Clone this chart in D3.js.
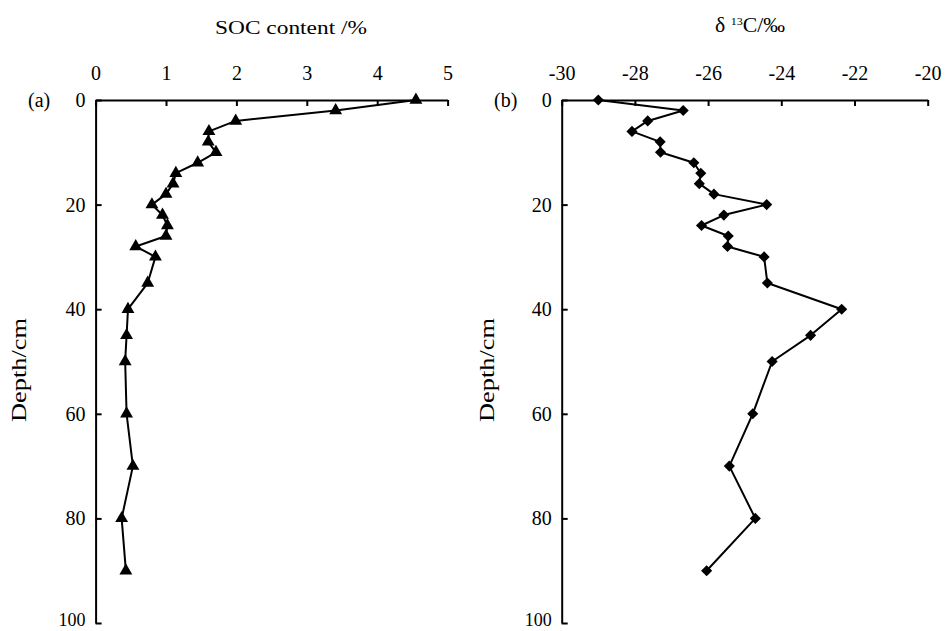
<!DOCTYPE html>
<html>
<head>
<meta charset="utf-8">
<script src="https://cdn.jsdelivr.net/npm/d3@7"></script>
<style>
  body { margin: 0; background: #fff; }
  svg { display: block; font-family: "Liberation Serif", "Times New Roman", serif; }
</style>
</head>
<body>
<svg id="chart" width="947" height="631"></svg>
<script>
// ---- data ----
const depths = [0, 2, 4, 6, 8, 10, 12, 14, 16, 18, 20, 22, 24, 26, 28, 30, 35, 40, 45, 50, 60, 70, 80, 90];
const socContent = [4.55, 3.41, 1.99, 1.61, 1.60, 1.71, 1.45, 1.14, 1.10, 1.00, 0.80, 0.95, 1.02, 1.00, 0.57, 0.85, 0.74, 0.46, 0.44, 0.42, 0.44, 0.53, 0.37, 0.43];
const delta13C = [-29.0, -26.68, -27.65, -28.08, -27.31, -27.3, -26.39, -26.2, -26.24, -25.84, -24.40, -25.57, -26.18, -25.45, -25.47, -24.47, -24.38, -22.35, -23.2, -24.25, -24.78, -25.42, -24.71, -26.04];
const socTicks = [0, 1, 2, 3, 4, 5];
const d13Ticks = [-30, -28, -26, -24, -22, -20];
const depthTicks = [0, 20, 40, 60, 80, 100];

const svg = d3.select("#chart");
const yScale = d3.scaleLinear().domain([0, 100]).range([100, 623]);

function panel(opts) {
  const g = svg.append("g");
  const x = d3.scaleLinear().domain(opts.domain).range(opts.range);
  const xAxis = d3.axisTop(x).tickValues(opts.ticks).tickSizeInner(-6).tickSizeOuter(0).tickPadding(20)
    .tickFormat(d => d < 0 ? "-" + Math.abs(d) : String(d));
  const ax = g.append("g").attr("transform", `translate(0,${yScale(0)})`).call(xAxis);
  const yAxis = d3.axisLeft(yScale).tickValues(depthTicks).tickSizeInner(-6).tickSizeOuter(0).tickPadding(10);
  const ay = g.append("g").attr("transform", `translate(${opts.range[0]},0)`).call(yAxis);
  [ax, ay].forEach(a => {
    a.select(".domain").attr("stroke", "#000").attr("stroke-width", 2);
    a.selectAll(".tick line").attr("stroke", "#000").attr("stroke-width", 2);
    a.selectAll(".tick text").attr("fill", "#000").attr("font-size", 20)
      .attr("font-family", "'Liberation Serif', serif");
  });
  // keep the bottom label inside the frame
  ay.selectAll(".tick text").filter(d => d === 100).attr("font-size", 18).attr("dy", "0.12em");

  const pts = depths.map((d, i) => [x(opts.values[i]), yScale(d)]);
  g.append("path").attr("d", d3.line()(pts)).attr("fill", "none")
    .attr("stroke", "#000").attr("stroke-width", 2).attr("stroke-linejoin", "round");
  const sym = d3.symbol().type(opts.symbol).size(opts.symSize);
  g.selectAll("path.mk").data(pts).join("path").attr("class", "mk")
    .attr("d", sym)
    .attr("transform", d => `translate(${d[0]},${d[1]}) rotate(${opts.rotate})`)
    .attr("fill", "#000");

  // panel letter
  g.append("text").attr("x", opts.letterX).attr("y", 101).attr("dy", "0.32em")
    .attr("font-size", 20).text(opts.letter);
  // y title
  g.append("text").attr("transform", `translate(${opts.ytitleX},370) rotate(-90)`)
    .attr("text-anchor", "middle").attr("dy", "0.32em").attr("font-size", 20)
    .attr("textLength", 104).attr("lengthAdjust", "spacingAndGlyphs").text("Depth/cm");
  return g;
}

panel({domain: [0, 5], range: [95.6, 447.6], ticks: socTicks, values: socContent,
       symbol: d3.symbolTriangle, symSize: 72, rotate: 0, letter: "(a)", letterX: 28, ytitleX: 20});
panel({domain: [-30, -20], range: [561.7, 927.7], ticks: d13Ticks, values: delta13C,
       symbol: d3.symbolSquare, symSize: 62, rotate: 45, letter: "(b)", letterX: 494, ytitleX: 488});

// titles
svg.append("text").attr("x", 291).attr("y", 34).attr("text-anchor", "middle")
  .attr("font-size", 19).attr("textLength", 152).attr("lengthAdjust", "spacingAndGlyphs")
  .text("SOC content /%");

const t2 = svg.append("text").attr("x", 715).attr("y", 32).attr("font-size", 20)
  .attr("textLength", 70).attr("lengthAdjust", "spacingAndGlyphs");
t2.append("tspan").text("δ ");
t2.append("tspan").attr("font-size", 11).attr("dy", -7).text("13");
t2.append("tspan").attr("dy", 7).text("C/‰");
</script>
</body>
</html>
